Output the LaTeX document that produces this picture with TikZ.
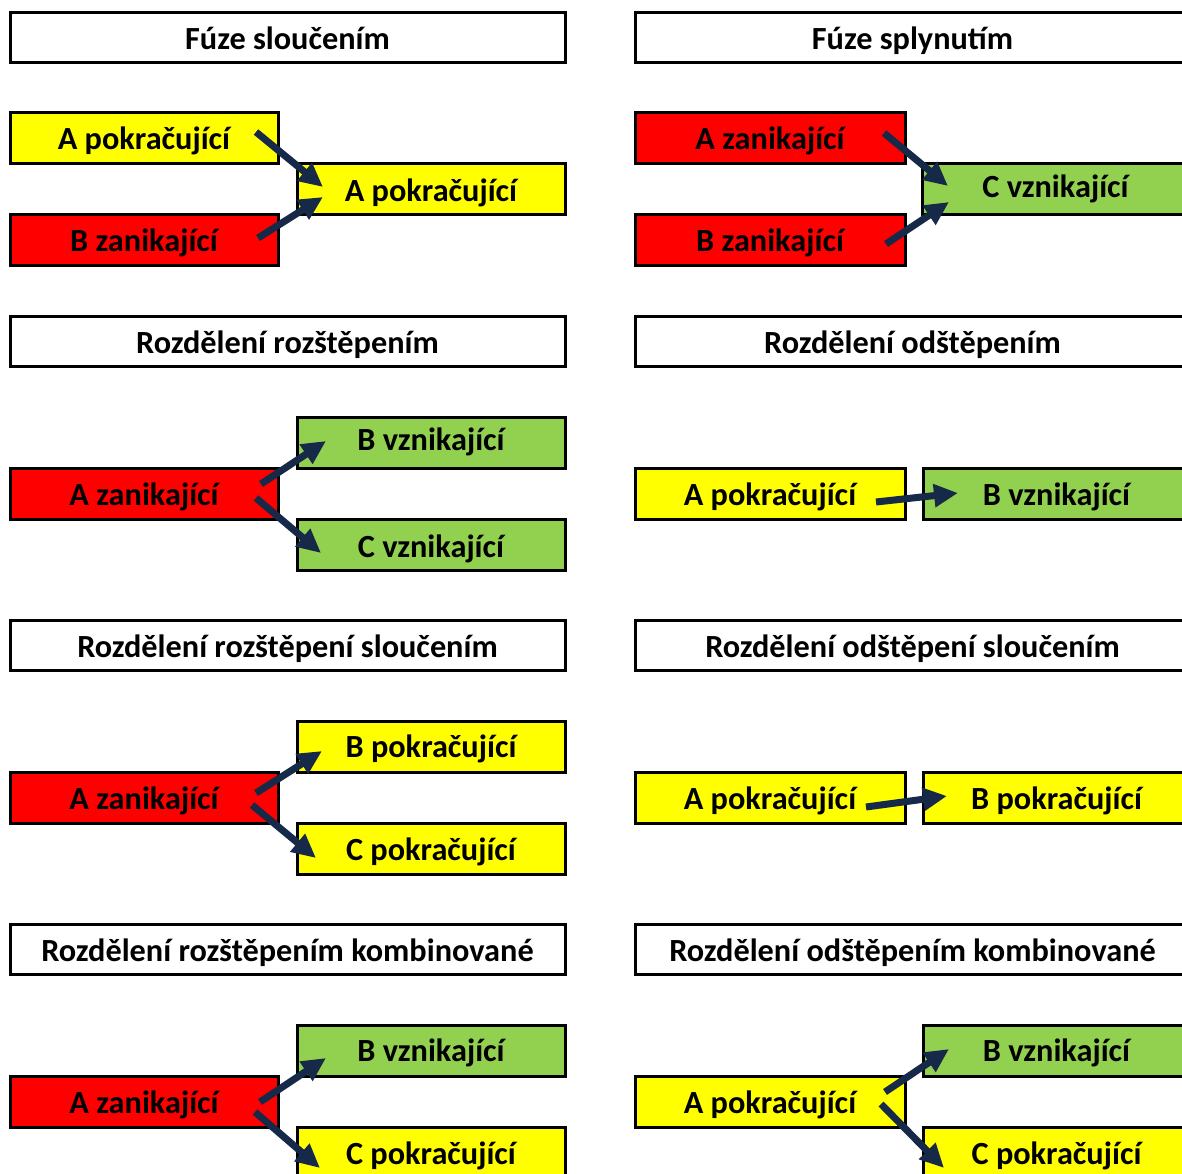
\documentclass[tikz,border=0pt]{standalone}
\usepackage{fontspec}
\setmainfont{Carlito}
\usetikzlibrary{arrows.meta}
\definecolor{cyel}{RGB}{255,255,0}
\definecolor{cred}{RGB}{255,0,0}
\definecolor{cgrn}{RGB}{146,208,80}
\definecolor{cnavy}{RGB}{22,41,72}
\tikzset{
  box/.style={draw=black, line width=3pt, inner sep=0pt, outer sep=0pt,
    anchor=north west, align=center,
    font=\fontsize{32.3}{35}\selectfont\bfseries,
    text height=24.5pt, text depth=0pt},
  title/.style={box, fill=white, minimum width=555pt, minimum height=50pt, text height=24pt},
  lbox/.style={box, minimum width=268pt, minimum height=51pt},
  mbox/.style={box, minimum width=270pt, minimum height=51pt},
  rbox/.style={box, minimum width=267pt, minimum height=51pt},
  raise/.style={text height=#1},
  arr/.style={draw=cnavy, line width=7pt, -{Triangle[length=24pt,width=22pt]}}
}
\begin{document}
\begin{tikzpicture}[x=1pt,y=-1pt]
\useasboundingbox (0,0) rectangle (1182,1173);
\clip (0,0) rectangle (1182,1173);
% ---------- Row 1
\node[title] (t1) at (10,12) {Fúze sloučením};
\node[title] (t2) at (635,12) {Fúze splynutím};
\node[lbox,fill=cyel,raise=23.5pt] (a1) at (10,112) {A pokračující};
\node[lbox,fill=cred] (b1) at (10,214) {B zanikající};
\node[lbox,fill=cyel,raise=25.5pt] (c1) at (297,163) {A pokračující};
\draw[arr] ([shift={(246,20)}]a1.north west) -- ([shift={(26,24)}]c1.north west);
\draw[arr] ([shift={(248,24)}]b1.north west) -- ([shift={(26,34)}]c1.north west);
\node[mbox,fill=cred] (ra1) at (635,112) {A zanikající};
\node[mbox,fill=cred] (rb1) at (635,214) {B zanikající};
\node[rbox,fill=cgrn,raise=17.9pt] (rc1) at (922,163) {C vznikající};
\draw[arr] ([shift={(249,21)}]ra1.north west) -- ([shift={(26,23)}]rc1.north west);
\draw[arr] ([shift={(251,30)}]rb1.north west) -- ([shift={(27,39)}]rc1.north west);
% ---------- Row 2
\node[title] (t3) at (10,316) {Rozdělení rozštěpením};
\node[title] (t4) at (635,316) {Rozdělení odštěpením};
\node[lbox,fill=cred] (a2) at (10,468) {A zanikající};
\node[lbox,fill=cgrn,raise=15.7pt] (b2) at (297,417) {B vznikající};
\node[lbox,fill=cgrn,raise=25.5pt] (c2) at (297,519) {C vznikající};
\draw[arr] ([shift={(251,16)}]a2.north west) -- ([shift={(29,24)}]b2.north west);
\draw[arr] ([shift={(246,30)}]a2.north west) -- ([shift={(24,34)}]c2.north west);
\node[mbox,fill=cyel] (ra2) at (635,468) {A pokračující};
\node[rbox,fill=cgrn] (rb2) at (923,468) {B vznikající};
\draw[arr] ([shift={(241,34)}]ra2.north west) -- ([shift={(35,25)}]rb2.north west);
% ---------- Row 3
\node[title] (t5) at (10,620) {Rozdělení rozštěpení sloučením};
\node[title] (t6) at (635,620) {Rozdělení odštěpení sloučením};
\node[lbox,fill=cred] (a3) at (10,772) {A zanikající};
\node[lbox,fill=cyel,raise=21.9pt] (b3) at (297,721) {B pokračující};
\node[lbox,fill=cyel] (c3) at (297,823) {C pokračující};
\draw[arr] ([shift={(246,21)}]a3.north west) -- ([shift={(25,30)}]b3.north west);
\draw[arr] ([shift={(242,33)}]a3.north west) -- ([shift={(19,35)}]c3.north west);
\node[mbox,fill=cyel] (ra3) at (635,772) {A pokračující};
\node[rbox,fill=cyel] (rb3) at (923,772) {B pokračující};
\draw[arr] ([shift={(231,35)}]ra3.north west) -- ([shift={(24,24)}]rb3.north west);
% ---------- Row 4
\node[title] (t7) at (10,924) {Rozdělení rozštěpením kombinované};
\node[title] (t8) at (635,924) {Rozdělení odštěpením kombinované};
\node[lbox,fill=cred] (a4) at (10,1076) {A zanikající};
\node[lbox,fill=cgrn,raise=21.9pt] (b4) at (297,1025) {B vznikající};
\node[lbox,fill=cyel] (c4) at (297,1127) {C pokračující};
\draw[arr] ([shift={(250,26)}]a4.north west) -- ([shift={(29,33)}]b4.north west);
\draw[arr] ([shift={(245,36)}]a4.north west) -- ([shift={(23,41)}]c4.north west);
\node[mbox,fill=cyel] (ra4) at (635,1076) {A pokračující};
\node[rbox,fill=cgrn,raise=21.9pt] (rb4) at (923,1025) {B vznikající};
\node[rbox,fill=cyel] (rc4) at (923,1127) {C pokračující};
\draw[arr] ([shift={(250,16)}]ra4.north west) -- ([shift={(26,24)}]rb4.north west);
\draw[arr] ([shift={(246,28)}]ra4.north west) -- ([shift={(21,41)}]rc4.north west);
\end{tikzpicture}
\end{document}
